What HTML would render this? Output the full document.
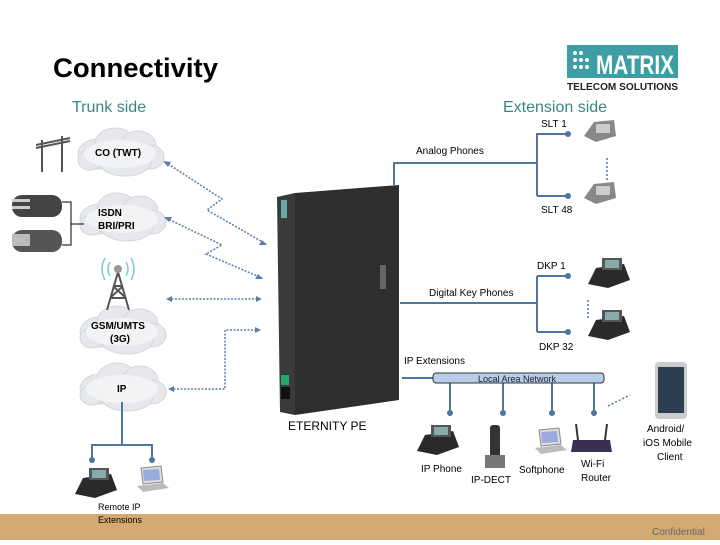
<!DOCTYPE html>
<html><head><meta charset="utf-8"><style>
body{margin:0;width:720px;height:540px;overflow:hidden;background:#fff;font-family:"Liberation Sans",sans-serif}
</style></head><body>
<svg width="720" height="540" viewBox="0 0 720 540" xmlns="http://www.w3.org/2000/svg" font-family="Liberation Sans, sans-serif">
<defs>
<g id="cloud"><g fill="#e6e8ec" stroke="#d4d7dc" stroke-width="1">
<ellipse cx="-22" cy="2" rx="20" ry="15"/><ellipse cx="-5" cy="-8" rx="20" ry="16"/><ellipse cx="18" cy="-6" rx="18" ry="15"/><ellipse cx="30" cy="5" rx="14" ry="12"/><ellipse cx="5" cy="10" rx="26" ry="14"/><ellipse cx="-30" cy="8" rx="12" ry="10"/></g>
<g fill="#f2f3f5"><ellipse cx="0" cy="2" rx="36" ry="14"/></g></g>
<g id="phone"><path d="M0 16 L10 2 L30 0 L32 16 L12 22 Z" fill="#888"/><rect x="12" y="4" width="14" height="9" fill="#ccc"/></g>
<g id="dkp"><path d="M0 26 L8 10 L36 6 L42 22 L20 30 Z" fill="#2a2a2a"/><rect x="14" y="0" width="20" height="12" fill="#555"/><rect x="17" y="2" width="14" height="8" fill="#8aa"/></g>
<g id="lap"><path d="M4 0 L24 -2 L26 14 L6 16 Z" fill="#ddd" stroke="#888"/><path d="M6 2 L22 1 L23 12 L7 13 Z" fill="#9ad"/><path d="M0 18 L26 15 L32 20 L6 24 Z" fill="#bbb"/></g>
</defs>
<text x="53" y="77" font-size="27" font-weight="bold" fill="#000" textLength="165" lengthAdjust="spacingAndGlyphs">Connectivity</text>
<rect x="567" y="45" width="111" height="33" fill="#3d9ea3"/>
<g fill="#fff"><circle cx="575" cy="53" r="2"/><circle cx="581" cy="53" r="2"/><circle cx="575" cy="60" r="2"/><circle cx="581" cy="60" r="2"/><circle cx="587" cy="60" r="2"/><circle cx="575" cy="67" r="2"/><circle cx="581" cy="67" r="2"/><circle cx="587" cy="67" r="2"/></g>
<text x="596" y="74" font-size="27" font-weight="bold" fill="#fff" textLength="78" lengthAdjust="spacingAndGlyphs">MATRIX</text>
<text x="567" y="90" font-size="10" font-weight="bold" fill="#222" textLength="111" lengthAdjust="spacingAndGlyphs">TELECOM SOLUTIONS</text>
<text x="72" y="112" font-size="16" fill="#3b8585">Trunk side</text>
<text x="503" y="112" font-size="16" fill="#3b8585">Extension side</text>
<use href="#cloud" x="120" y="152"/><use href="#cloud" x="122" y="217"/><use href="#cloud" x="122" y="330"/><use href="#cloud" x="122" y="387"/>
<g font-size="10" fill="#000" font-weight="bold"><text x="95" y="156">CO (TWT)</text><text x="98" y="216">ISDN</text><text x="98" y="229">BRI/PRI</text><text x="91" y="329">GSM/UMTS</text><text x="110" y="342">(3G)</text><text x="117" y="392">IP</text></g>
<g stroke="#555" stroke-width="2" fill="none"><line x1="42" y1="140" x2="42" y2="172"/><line x1="62" y1="136" x2="62" y2="172"/><line x1="36" y1="145" x2="70" y2="138"/><line x1="36" y1="148" x2="70" y2="141"/></g>
<g><rect x="12" y="195" width="50" height="22" rx="10" fill="#444"/><rect x="12" y="230" width="50" height="22" rx="10" fill="#555"/><rect x="12" y="234" width="18" height="12" fill="#bbb"/><rect x="12" y="199" width="18" height="3" fill="#ccc"/><rect x="12" y="206" width="18" height="3" fill="#ccc"/></g>
<path d="M62 202 H71 V245 H62 M71 224 H84" stroke="#000" fill="none"/>
<g stroke="#555" stroke-width="2" fill="none"><path d="M107 310 L118 272 L129 310 M110 298 L126 298 M113 286 L123 286 M110 298 L123 286 M126 298 L113 286"/></g>
<circle cx="118" cy="269" r="4" fill="#999"/>
<g stroke="#7cc" fill="none" stroke-width="1.5"><path d="M110 262 Q106 269 110 276 M126 262 Q130 269 126 276 M105 258 Q99 269 105 280 M131 258 Q137 269 131 280"/></g>
<g stroke="#5a7fa8" stroke-width="1.5" stroke-dasharray="2,1.5" fill="none">
<path d="M165 162 L222 199 L207 210 L266 244"/>
<path d="M166 218 L222 245 L206 254 L262 278"/>
<path d="M168 299 H260"/>
<path d="M170 389 H225 V330 H258"/>
</g>
<g fill="#5a7fa8"><path d="M163 161 l8 1 -3 5z"/><path d="M267 245 l-8 0 3 -5z"/><path d="M164 217 l8 0 -3 5z"/><path d="M263 279 l-8 0 3 -5z"/><path d="M166 299 l6 -3 v6z"/><path d="M262 299 l-6 -3 v6z"/><path d="M168 389 l6 -3 v6z"/><path d="M261 330 l-6 -3 v6z"/></g>
<path d="M277 197 L295 193 L295 415 L280 412 Z" fill="#3a3a3a"/>
<path d="M295 193 L399 185 L399 400 L295 415 Z" fill="#2e2e2e"/>
<rect x="281" y="200" width="6" height="18" fill="#6aa"/>
<rect x="281" y="375" width="8" height="10" fill="#2a6"/>
<rect x="281" y="387" width="9" height="12" fill="#111"/>
<rect x="380" y="265" width="6" height="24" fill="#666"/>
<text x="288" y="430" font-size="12" fill="#000">ETERNITY PE</text>
<g stroke="#4f76a0" stroke-width="2" fill="none">
<path d="M394 185 V163 H537 M537 133 V196 M537 134 H568 M537 196 H568"/>
<path d="M400 303 H537 M537 276 V332 M537 276 H568 M537 332 H568"/>
<path d="M402 378 H433"/>
<path d="M450 383 V413 M503 383 V413 M552 383 V413 M594 383 V413"/>
<path d="M122 402 V445 H92 V460 M122 445 H152 V460"/>
</g>
<g stroke="#4f76a0" stroke-width="1.5" stroke-dasharray="2,2"><line x1="607" y1="158" x2="607" y2="180"/><line x1="588" y1="300" x2="588" y2="318"/><path d="M608 406 L630 395" /></g>
<g fill="#4f76a0"><circle cx="568" cy="134" r="3"/><circle cx="568" cy="196" r="3"/><circle cx="568" cy="276" r="3"/><circle cx="568" cy="332" r="3"/><circle cx="450" cy="413" r="3"/><circle cx="503" cy="413" r="3"/><circle cx="552" cy="413" r="3"/><circle cx="594" cy="413" r="3"/><circle cx="92" cy="460" r="3"/><circle cx="152" cy="460" r="3"/></g>
<rect x="433" y="373" width="171" height="10" rx="3" fill="#b8cde8" stroke="#333"/>
<text x="478" y="382" font-size="9" fill="#223">Local Area Network</text>
<g font-size="10" fill="#000">
<text x="541" y="127">SLT 1</text><text x="416" y="154">Analog Phones</text><text x="541" y="213">SLT 48</text>
<text x="537" y="269">DKP  1</text><text x="429" y="296">Digital Key Phones</text><text x="539" y="350">DKP  32</text>
<text x="404" y="364">IP Extensions</text>
<text x="421" y="472">IP Phone</text><text x="471" y="483">IP-DECT</text><text x="519" y="473">Softphone</text><text x="581" y="467">Wi-Fi</text><text x="581" y="481">Router</text>
<text x="647" y="432">Android/</text><text x="643" y="446">iOS Mobile</text><text x="657" y="460">Client</text>
<text x="98" y="510" font-size="9">Remote IP</text><text x="98" y="523" font-size="9">Extensions</text>
</g>
<use href="#phone" x="584" y="120"/><use href="#phone" x="584" y="182"/>
<use href="#dkp" x="588" y="258"/><use href="#dkp" x="588" y="310"/>
<use href="#dkp" x="417" y="425"/><use href="#dkp" x="75" y="468"/>
<use href="#lap" x="535" y="430"/><use href="#lap" x="137" y="468"/>
<rect x="490" y="425" width="10" height="42" rx="3" fill="#333"/><path d="M485 455 L505 455 L505 468 L485 468Z" fill="#777"/>
<path d="M573 440 L610 440 L612 452 L571 452Z" fill="#3a3050"/><line x1="578" y1="440" x2="576" y2="424" stroke="#333" stroke-width="2"/><line x1="605" y1="440" x2="607" y2="424" stroke="#333" stroke-width="2"/>
<rect x="655" y="362" width="32" height="57" rx="4" fill="#ccc"/><rect x="658" y="367" width="26" height="46" fill="#2c3e50"/>
<rect x="0" y="514" width="720" height="26" fill="#d4aa72"/>
<text x="98" y="523" font-size="9" fill="#000">Extensions</text>
<text x="652" y="535" font-size="10" fill="#666">Confidential</text>
</svg>
</body></html>
